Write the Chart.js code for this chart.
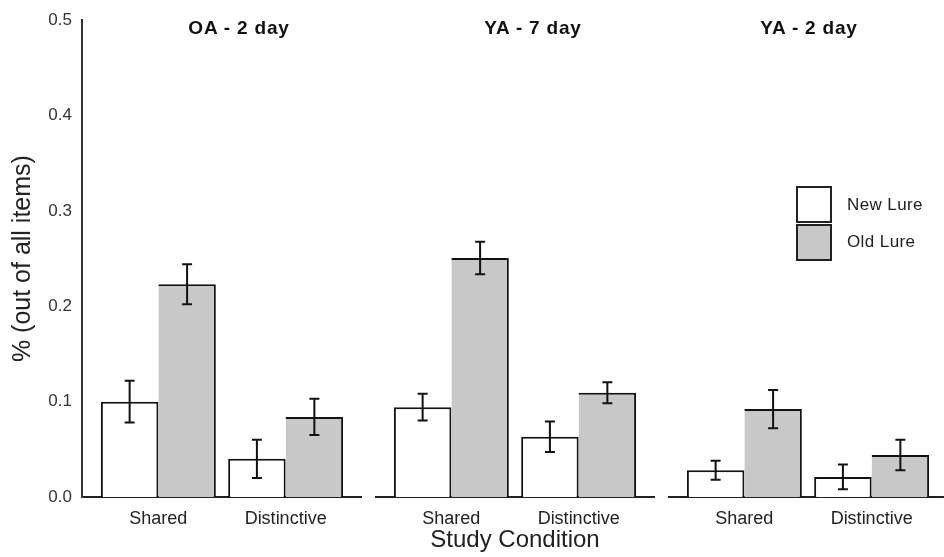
<!DOCTYPE html>
<html>
<head>
<meta charset="utf-8">
<script src="https://cdn.jsdelivr.net/npm/chart.js@4.4.1/dist/chart.umd.min.js"></script>
<style>
  body { margin: 0; background: #fff; overflow: hidden; }
  #wrap { position: relative; width: 944px; height: 557px; overflow: hidden; font-family: "Liberation Sans", Arial, sans-serif; }
  canvas { position: absolute; top: 0; }
  .ptitle { position: absolute; top: 18px; width: 200px; text-align: center; font-weight: bold; font-size: 19px; line-height: 20px; letter-spacing: 0.8px; color: #111; }
  .lbox { position: absolute; left: 796px; width: 36px; height: 37px; box-sizing: border-box; border: 2px solid #222; }
  .ltext { position: absolute; left: 847px; font-size: 17px; line-height: 20px; color: #222; letter-spacing: 0.4px; }
</style>
</head>
<body>
<div id="wrap">
  <canvas id="c0" width="362" height="557" style="left:0px"></canvas>
  <canvas id="c1" width="280" height="557" style="left:375px"></canvas>
  <canvas id="c2" width="280" height="557" style="left:668px"></canvas>
  <div class="ptitle" id="t0" style="left:139px"></div>
  <div class="ptitle" id="t1" style="left:433px"></div>
  <div class="ptitle" id="t2" style="left:709px"></div>
  <div class="lbox" style="top:186px;background:#fff"></div>
  <div class="lbox" style="top:224px;background:#c8c8c8"></div>
  <div class="ltext" style="top:195px">New Lure</div>
  <div class="ltext" style="top:232px">Old Lure</div>
</div>
<script>
// data
const panelTitles = ['OA - 2 day', 'YA - 7 day', 'YA - 2 day'];
const conditions = ['Shared', 'Distinctive'];
const yTicks = [0, 0.1, 0.2, 0.3, 0.4, 0.5];

const newLureMean = [[0.100, 0.040], [0.094, 0.063], [0.028, 0.021]];
const newLureErr  = [[0.022, 0.020], [0.014, 0.016], [0.010, 0.013]];
const oldLureMean = [[0.223, 0.084], [0.250, 0.109], [0.092, 0.044]];
const oldLureErr  = [[0.021, 0.019], [0.017, 0.011], [0.020, 0.016]];

const FONT = "'Liberation Sans', Arial, sans-serif";

// draws the +/- error whiskers on top of each bar
const errorBars = {
  id: 'errorBars',
  afterDatasetsDraw(chart) {
    const ctx = chart.ctx;
    const ys = chart.scales.y;
    ctx.save();
    ctx.strokeStyle = '#111';
    ctx.lineWidth = 2;
    chart.data.datasets.forEach((ds, di) => {
      chart.getDatasetMeta(di).data.forEach((bar, i) => {
        const v = ds.data[i].y;
        const e = ds.errors[i];
        const top = ys.getPixelForValue(v + e);
        const bot = ys.getPixelForValue(v - e);
        ctx.beginPath();
        ctx.moveTo(bar.x, top); ctx.lineTo(bar.x, bot);
        ctx.moveTo(bar.x - 5, top); ctx.lineTo(bar.x + 5, top);
        ctx.moveTo(bar.x - 5, bot); ctx.lineTo(bar.x + 5, bot);
        ctx.stroke();
      });
    });
    ctx.restore();
  }
};

function points(vals) {
  return vals.map((v, i) => ({ x: i, y: v }));
}

function makePanel(p) {
  document.getElementById('t' + p).textContent = panelTitles[p];
  const first = p === 0;
  new Chart(document.getElementById('c' + p).getContext('2d'), {
    type: 'bar',
    data: {
      datasets: [{
        label: 'New Lure',
        data: points(newLureMean[p]),
        errors: newLureErr[p],
        backgroundColor: '#ffffff',
        borderColor: '#111',
        borderWidth: { top: 2, left: 2, right: 2, bottom: 0 },
        borderSkipped: false
      }, {
        label: 'Old Lure',
        data: points(oldLureMean[p]),
        errors: oldLureErr[p],
        backgroundColor: '#c8c8c8',
        borderColor: '#111',
        borderWidth: { top: 2, left: 0, right: 2, bottom: 0 },
        borderSkipped: false
      }]
    },
    options: {
      responsive: false,
      animation: false,
      layout: { padding: { top: 19, left: 0, right: 0, bottom: 0 } },
      datasets: { bar: { barPercentage: 1, categoryPercentage: 0.903 } },
      plugins: { legend: { display: false }, tooltip: { enabled: false } },
      scales: {
        x: {
          type: 'linear',
          offset: false,
          min: -0.6,
          max: 1.6,
          grid: { display: false, drawTicks: false, offset: false },
          border: { display: true, color: '#222', width: 2 },
          afterBuildTicks: (s) => { s.ticks = [{ value: 0 }, { value: 1 }]; },
          afterFit: (s) => { s.height = 60; },
          ticks: {
            padding: 11,
            maxRotation: 0,
            color: '#222',
            font: { family: FONT, size: 18 },
            callback: (v) => conditions[v]
          },
          title: {
            display: p === 1,
            text: 'Study Condition',
            color: '#222',
            font: { family: FONT, size: 24 },
            padding: { top: 0, bottom: 2 }
          }
        },
        y: {
          display: first,
          min: 0,
          max: 0.5,
          grid: { display: false, drawTicks: false },
          border: { display: true, color: '#333', width: 2 },
          afterBuildTicks: (s) => { s.ticks = yTicks.map(v => ({ value: v })); },
          afterFit: (s) => { s.width = first ? 82 : 0; },
          ticks: {
            padding: 10,
            color: '#333',
            font: { family: FONT, size: 17 },
            callback: (v) => v.toFixed(1)
          },
          title: {
            display: true,
            text: '% (out of all items)',
            color: '#222',
            font: { family: FONT, size: 25 },
            padding: { top: 8, bottom: 0 }
          }
        }
      }
    },
    plugins: [errorBars]
  });
}

panelTitles.forEach((t, p) => makePanel(p));
</script>
</body>
</html>
